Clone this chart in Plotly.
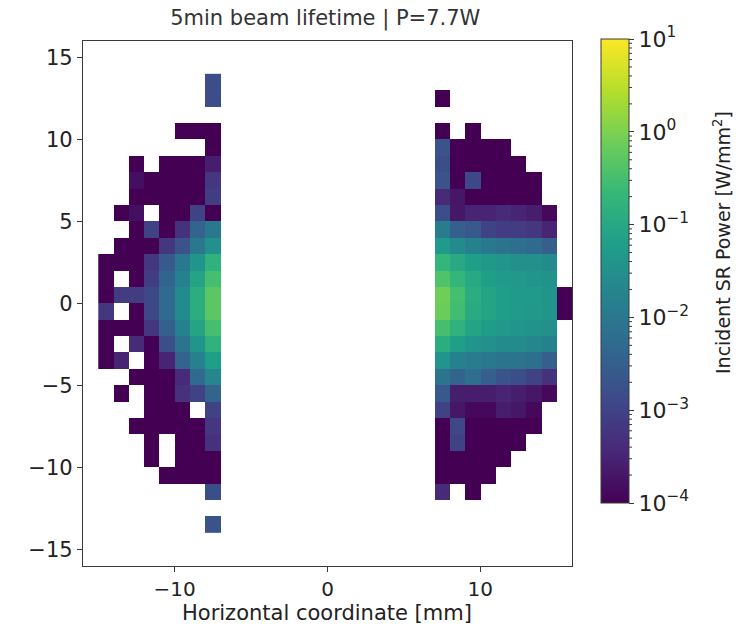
import math
import plotly.graph_objects as go

N = None
# bin edges are 1 mm; rows listed from top (y bin 13..14) to bottom (y bin -14..-13)
row_bottom_edges = list(range(13, -15, -1))
left_cols = [-15, -14, -13, -12, -11, -10, -9, -8]     # left edges of x bins
right_cols = [7, 8, 9, 10, 11, 12, 13, 14, 15]

# log10 of incident SR power [W/mm^2]
left_log_power = [
    [N, N, N, N, N, N, N, -2.8],
    [N, N, N, N, N, N, N, -2.8],
    [N, N, N, N, N, N, N, N],
    [N, N, N, N, N, -4, -4, -4],
    [N, N, N, N, N, N, N, -4],
    [N, N, -4, N, -4, -4, -4, -3.6],
    [N, N, -3.8, -4, -4, -4, -4, -3.2],
    [N, N, -4, -4, -4, -4, -4, -3.1],
    [N, -4, -3.8, N, -4, -4, -3.0, -4],
    [N, N, -4, -3.0, -4, -3.3, -2.4, -2.0],
    [N, -4, -4, -4, -3.2, -2.7, -2.0, -1.5],
    [-4, -4, -4, -3.2, -2.6, -2.0, -1.4, -0.8],
    [-4, N, -4, -3.1, -2.4, -1.8, -1.1, -0.5],
    [-4, -3.1, -3.1, -2.9, -2.3, -1.6, -0.9, -0.3],
    [-3.2, N, -4, -2.9, -2.3, -1.6, -0.9, -0.3],
    [-4, -4, -4, -3.2, -2.5, -1.8, -1.1, -0.5],
    [-4, N, -3.4, -4, -2.8, -2.1, -1.4, -0.8],
    [-4, -3.5, N, -4, -3.5, -2.4, -1.8, -1.2],
    [N, N, -4, -4, -4, -3.4, -2.3, -1.7],
    [N, -4, N, -4, -4, -3.3, -3.0, -2.4],
    [N, N, N, -4, -4, -4, N, -3.0],
    [N, N, -4, -4, -4, -4, -4, -3.2],
    [N, N, N, -4, N, -4, -4, -3.3],
    [N, N, N, -4, N, -4, -4, -4],
    [N, N, N, N, -4, -4, -4, -4],
    [N, N, N, N, N, N, N, -2.8],
    [N, N, N, N, N, N, N, N],
    [N, N, N, N, N, N, N, -2.7],
]

right_log_power = [
    [N, N, N, N, N, N, N, N, N],
    [-4, N, N, N, N, N, N, N, N],
    [N, N, N, N, N, N, N, N, N],
    [-4, N, -4, N, N, N, N, N, N],
    [-2.7, -4, -4, -4, -4, N, N, N, N],
    [-2.8, -4, -4, -4, -4, -4, N, N, N],
    [-2.7, -4, -2.9, -4, -4, -4, -4, N, N],
    [-3.4, -3.7, -4, -4, -4, -4, -4, N, N],
    [-2.8, -3.7, -3.5, -3.5, -3.4, -3.5, -3.6, -3.9, N],
    [-1.9, -2.5, -2.6, -3.0, -3.1, -3.1, -3.2, -3.5, N],
    [-1.3, -1.6, -1.8, -2.0, -2.1, -2.2, -2.3, -2.5, N],
    [-0.7, -1.0, -1.2, -1.35, -1.4, -1.5, -1.5, -1.6, N],
    [-0.4, -0.7, -1.0, -1.2, -1.3, -1.35, -1.4, -1.45, N],
    [-0.1, -0.5, -0.9, -1.1, -1.2, -1.3, -1.3, -1.4, -4],
    [-0.15, -0.55, -0.95, -1.1, -1.2, -1.3, -1.35, -1.4, -4],
    [-0.5, -0.8, -1.1, -1.25, -1.35, -1.4, -1.45, -1.5, N],
    [-0.9, -1.2, -1.4, -1.5, -1.6, -1.6, -1.7, -1.8, N],
    [-1.4, -1.8, -1.9, -2.0, -2.1, -2.1, -2.2, -2.5, N],
    [-2.1, -2.4, -2.2, -2.5, -2.7, -2.8, -3.0, -3.3, N],
    [-2.6, -3.6, -3.6, -3.6, -3.5, -3.6, -3.7, -3.9, N],
    [-3.0, -3.7, -3.9, -3.9, -3.6, -3.7, -3.9, N, N],
    [-4, -2.9, -4, -4, -4, -4, -4, N, N],
    [-4, -3.0, -4, -4, -4, -4, N, N, N],
    [-4, -4, -4, -4, -4, N, N, N, N],
    [-4, -4, -4, -4, N, N, N, N, N],
    [-3.4, N, -4, N, N, N, N, N, N],
    [N, N, N, N, N, N, N, N, N],
    [N, N, N, N, N, N, N, N, N],
]

cbar_tickvals = [-4, -3, -2, -1, 0, 1]
cbar_ticktext = ["10<sup>−4</sup>", "10<sup>−3</sup>", "10<sup>−2</sup>",
                 "10<sup>−1</sup>", "10<sup>0</sup>", "10<sup>1</sup>"]
x_tickvals = [-10, 0, 10]
x_ticktext = ["−10", "0", "10"]
y_tickvals = [-15, -10, -5, 0, 5, 10, 15]
y_ticktext = ["−15", "−10", "−5", "0", "5", "10", "15"]

# assemble full grid x bins -15..15, y bins -14..13
x_edges = list(range(-15, 16))
x_centers = [e + 0.5 for e in x_edges]
y_centers = [k + 0.5 for k in row_bottom_edges]
z = []
for i in range(len(row_bottom_edges)):
    row = []
    for e in x_edges:
        if e in left_cols:
            row.append(left_log_power[i][left_cols.index(e)])
        elif e in right_cols:
            row.append(right_log_power[i][right_cols.index(e)])
        else:
            row.append(None)
    z.append(row)

FONT = "DejaVu Sans"
AX = "#3a3a3a"
TXT = "#222"

# pixel geometry of the plot area / colorbar
PL, PR, PT, PB = 83, 572, 41, 566
W, H = PR - PL, PB - PT
CB_L, CB_R, CB_T, CB_B = 601, 629, 39, 503


def px2paper_x(px):
    return (px - PL) / W


def px2paper_y(py):
    return (PB - py) / H


fig = go.Figure(go.Heatmap(
    x=x_centers, y=y_centers, z=z,
    colorscale="Viridis", zmin=-4, zmax=1,
    hoverongaps=False,
    colorbar=dict(
        x=px2paper_x(CB_L), xanchor="left", xpad=0, ypad=0,
        y=px2paper_y((CB_T + CB_B) / 2), yanchor="middle",
        len=CB_B - CB_T, lenmode="pixels",
        thickness=CB_R - CB_L, thicknessmode="pixels",
        outlinewidth=1, outlinecolor=AX,
        tickvals=cbar_tickvals, ticktext=cbar_ticktext,
        ticks="outside", ticklen=5, tickcolor=AX,
        tickfont=dict(family=FONT, size=22, color=TXT),
    ),
))

# minor log ticks on colorbar
shapes = []
for dec in range(-4, 1):
    for m in range(2, 10):
        v = dec + math.log10(m)
        py = CB_B - (v + 4) / 5 * (CB_B - CB_T)
        shapes.append(dict(type="line", xref="paper", yref="paper",
                           x0=px2paper_x(CB_R), x1=px2paper_x(CB_R + 3),
                           y0=px2paper_y(py), y1=px2paper_y(py),
                           line=dict(color=AX, width=1)))

fig.update_layout(
    width=736, height=635,
    margin=dict(l=PL, r=736 - PR, t=PT, b=635 - PB),
    paper_bgcolor="white", plot_bgcolor="white",
    title=dict(text="5min beam lifetime | P=7.7W", x=0.442, xanchor="center",
               y=1 - 18 / 635, yanchor="middle",
               font=dict(family=FONT, size=21, color="#333")),
    font=dict(family=FONT, color=TXT),
    showlegend=False,
    shapes=shapes,
    annotations=[
        dict(text="Incident SR Power [W/mm<sup>2</sup>]", textangle=-90,
             xref="paper", yref="paper", x=px2paper_x(722), y=px2paper_y(243),
             xanchor="center", yanchor="middle", showarrow=False,
             font=dict(family=FONT, size=19, color=TXT)),
        dict(text="Horizontal coordinate [mm]",
             xref="paper", yref="paper", x=px2paper_x(327), y=px2paper_y(613),
             xanchor="center", yanchor="middle", showarrow=False,
             font=dict(family=FONT, size=21, color=TXT)),
    ],
)
fig.update_xaxes(
    range=[-16, 16], tickvals=x_tickvals, ticktext=x_ticktext,
    ticks="outside", ticklen=5, tickcolor=AX,
    showline=True, linecolor=AX, linewidth=1.3, mirror=True,
    showgrid=False, zeroline=False,
    tickfont=dict(family=FONT, size=20, color=TXT),
)
fig.update_yaxes(
    range=[-16, 16], tickvals=y_tickvals, ticktext=y_ticktext,
    ticks="outside", ticklen=5, tickcolor=AX,
    showline=True, linecolor=AX, linewidth=1.3, mirror=True,
    showgrid=False, zeroline=False,
    tickfont=dict(family=FONT, size=21, color=TXT),
)

fig.write_html("out.html")
